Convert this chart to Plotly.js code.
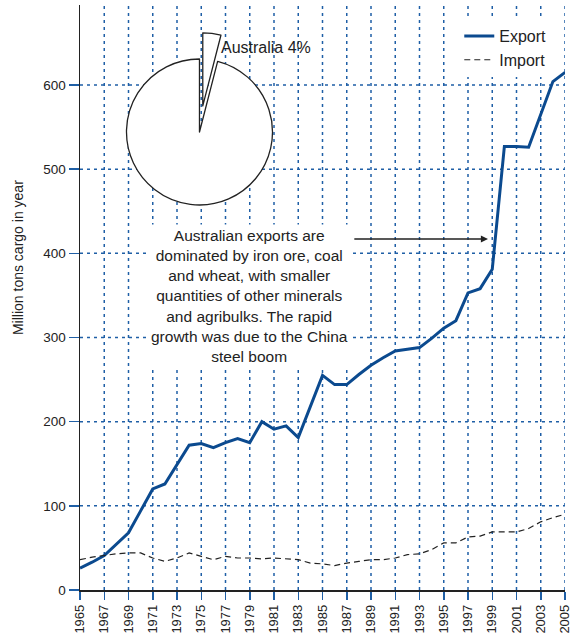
<!DOCTYPE html>
<html>
<head>
<meta charset="utf-8">
<script src="https://cdn.plot.ly/plotly-3.0.1.min.js"></script>
<style>
html,body{margin:0;padding:0;background:#fff;}
#wrap{position:relative;width:575px;height:640px;}
#chart,#pie{position:absolute;left:0;top:0;width:575px;height:640px;}
</style>
</head>
<body>
<div id="wrap"><div id="chart"></div><div id="pie"></div></div>
<script>
const years = [1965,1966,1967,1968,1969,1970,1971,1972,1973,1974,1975,1976,1977,1978,1979,1980,1981,1982,1983,1984,1985,1986,1987,1988,1989,1990,1991,1992,1993,1994,1995,1996,1997,1998,1999,2000,2001,2002,2003,2004,2005];
const exportTons = [26,33,41,54,68,94,120,126,149,172,174,169,175,180,175,200,191,195,181,218,255,244,244,256,267,276,284,286,288,299,311,320,353,358,381,527,527,526,566,604,615];
const importTons = [36,39,41,43,44,44,38,34,38,44,40,36,40,38,38,37,38,37,36,32,31,29,32,34,36,36,38,42,43,48,56,56,63,64,69,69,69,73,81,86,90];
const tickYears = [1965,1967,1969,1971,1973,1975,1977,1979,1981,1983,1985,1987,1989,1991,1993,1995,1997,1999,2001,2003,2005];
const yTicks = [0,100,200,300,400,500,600];
const yRange = [0, 695];
const xRange = [1965, 2005];
const pieLabels = ['Australia','Rest of world'];
const pieShares = [4,96];

const FONT = 'Liberation Sans, Arial, Helvetica, sans-serif';
const GRID = '#1f5fa6';
const MARGIN = {l: 80, r: 10, t: 5, b: 50};

// dotted grid drawn as line traces through the axes' own scales
const gridYears = tickYears.slice(1);
const gridVals = yTicks.slice(1);
const gridStyle = {color: GRID, width: 1.5, dash: '3px,4px'};
const traces = [
  {x: gridYears.flatMap(v => [v, v, null]), y: gridYears.flatMap(() => [yRange[0], yRange[1], null]),
   type: 'scatter', mode: 'lines', line: gridStyle, showlegend: false, hoverinfo: 'none', connectgaps: false},
  {x: gridVals.flatMap(() => [xRange[0], xRange[1], null]), y: gridVals.flatMap(v => [v, v, null]),
   type: 'scatter', mode: 'lines', line: gridStyle, showlegend: false, hoverinfo: 'none', connectgaps: false},
  {x: years, y: exportTons, type: 'scatter', mode: 'lines', name: 'Export',
   line: {color: '#0b4a8f', width: 3}, hoverinfo: 'none'},
  {x: years, y: importTons, type: 'scatter', mode: 'lines', name: 'Import',
   line: {color: '#222', width: 1.2, dash: '6px,4px'}, hoverinfo: 'none'}
];

const layout = {
  width: 575, height: 640,
  margin: MARGIN,
  paper_bgcolor: '#fff', plot_bgcolor: '#fff',
  font: {family: FONT, color: '#222', size: 13},
  showlegend: true,
  legend: {x: 0.782, xanchor: 'left', y: 0.976, yanchor: 'top', bgcolor: '#fff',
           font: {size: 16, family: FONT, color: '#222'}, tracegroupgap: 0},
  xaxis: {range: xRange, tickvals: tickYears, ticktext: tickYears.map(String), tickangle: -90,
          showgrid: false, showline: true, linecolor: '#222', linewidth: 1.5, zeroline: false,
          ticks: 'outside', ticklen: 8, tickwidth: 1.5, tickcolor: GRID,
          tickfont: {size: 13, family: FONT, color: '#222'}, fixedrange: true},
  yaxis: {range: yRange, tickvals: yTicks,
          showgrid: false, showline: true, linecolor: '#222', linewidth: 1.5, zeroline: false,
          ticks: 'outside', ticklen: 10, tickwidth: 1.5, tickcolor: GRID,
          tickfont: {size: 13.5, family: FONT, color: '#222'}, fixedrange: true},
  annotations: [
    {xref: 'paper', yref: 'paper', x: -0.128, y: 0.569, xanchor: 'center', yanchor: 'middle',
     text: 'Million tons cargo in year', textangle: -90, showarrow: false,
     font: {size: 14, family: FONT, color: '#222'}},
    {xref: 'x', yref: 'y', x: 1979.0, y: 349, xanchor: 'center', yanchor: 'middle',
     text: 'Australian exports are<br>dominated by iron ore, coal<br>and wheat, with smaller<br>quantities of other minerals<br>and agribulks. The rapid<br>growth was due to the China<br>steel boom',
     showarrow: false, bgcolor: '#fff', borderpad: 2, align: 'center',
     font: {size: 15.5, family: FONT, color: '#222'}},
    {xref: 'x', yref: 'y', axref: 'x', ayref: 'y', x: 1998.65, y: 417, ax: 1987.5, ay: 417,
     text: '', showarrow: true, arrowhead: 2, arrowsize: 1.1, arrowwidth: 1.3, arrowcolor: '#222'}
  ]
};

Plotly.newPlot('chart', traces, layout, {displayModeBar: false, staticPlot: true});

const pieTrace = [
  {type: 'pie', labels: pieLabels, values: pieShares, sort: false, direction: 'clockwise',
   rotation: 0, pull: [0.36, 0], textinfo: 'none', hoverinfo: 'none', showlegend: false,
   marker: {colors: ['#ffffff','#ffffff'], line: {color: '#222', width: 1.3}},
   domain: {x: [0.0416, 0.4511], y: [0.6132, 0.9526]}}
];
const pieLayout = {
  width: 575, height: 640, margin: MARGIN,
  paper_bgcolor: 'rgba(0,0,0,0)', plot_bgcolor: 'rgba(0,0,0,0)', showlegend: false,
  font: {family: FONT, color: '#222'},
  annotations: [
    {xref: 'paper', yref: 'paper', x: 0.2866, y: 0.9265, xanchor: 'left', yanchor: 'middle',
     text: 'Australia 4%', showarrow: false, font: {size: 16, family: FONT, color: '#222'}}
  ]
};
Plotly.newPlot('pie', pieTrace, pieLayout, {displayModeBar: false, staticPlot: true});
</script>
</body>
</html>
